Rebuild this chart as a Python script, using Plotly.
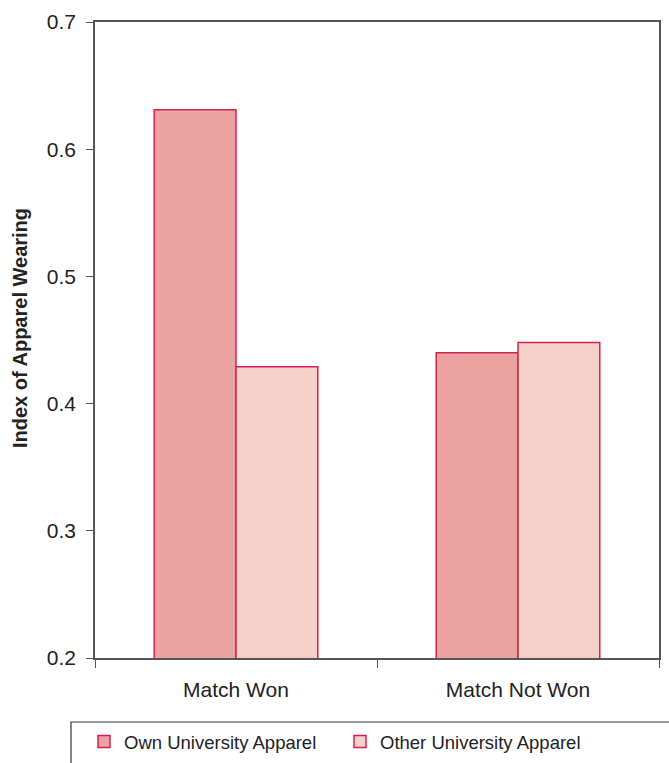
import plotly.graph_objects as go

categories = ["Match Won", "Match Not Won"]
own_values = [0.631, 0.440]
other_values = [0.429, 0.448]
series_names = ["Own University Apparel", "Other University Apparel"]
y_ticks = [0.2, 0.3, 0.4, 0.5, 0.6, 0.7]
y_tick_labels = ["0.2", "0.3", "0.4", "0.5", "0.6", "0.7"]
y_title = "Index of Apparel Wearing"

FONT = "Arial, Liberation Sans, Helvetica, sans-serif"
EDGE = "#D6204E"
W, H = 669, 763
ML, MR, MT, MB = 95, 10, 22, 105
PW, PH = W - ML - MR, H - MT - MB
PLOT_BOTTOM = MT + PH

def px_x(px):
    return (px - ML) / PW

def px_y(py):
    return (PLOT_BOTTOM - py) / PH

def cx(px):
    return px / W

def cy(py):
    return 1 - py / H

fig = go.Figure()
fig.add_trace(go.Bar(x=categories, y=own_values, name=series_names[0],
                     marker=dict(color="#EBA3A2", line=dict(color=EDGE, width=1.5))))
fig.add_trace(go.Bar(x=categories, y=other_values, name=series_names[1],
                     marker=dict(color="#F5D0C9", line=dict(color=EDGE, width=1.5))))

fig.update_layout(
    width=W, height=H,
    margin=dict(l=ML, r=MR, t=MT, b=MB, autoexpand=False),
    paper_bgcolor="white", plot_bgcolor="white",
    font=dict(family=FONT, size=18, color="#222222"),
    barmode="group", bargap=0.42, bargroupgap=0,
    showlegend=True,
    legend=dict(orientation="h", xref="container", yref="container",
                x=cx(84), xanchor="left", y=cy(723), yanchor="top",
                borderwidth=0, font=dict(size=18.5), entrywidth=211,
                traceorder="normal", bgcolor="rgba(0,0,0,0)"),
    xaxis=dict(type="category", showline=True, linecolor="#555555", linewidth=1.5,
               mirror=True, ticks="outside", tickson="boundaries", ticklen=8,
               tickcolor="#555555", showgrid=False, tickfont=dict(size=21),
               ticklabelstandoff=12, automargin=False),
    yaxis=dict(range=[0.2, 0.7], tickvals=y_ticks, ticktext=y_tick_labels,
               showline=True, linecolor="#555555", linewidth=1.5, mirror=True,
               ticks="outside", ticklen=7, tickcolor="#555555", showgrid=False,
               zeroline=False, tickfont=dict(size=21), ticklabelstandoff=6,
               automargin=False),
    annotations=[dict(text="<b>" + y_title + "</b>", xref="paper", yref="paper",
                      x=px_x(20), y=px_y(328), xanchor="center", yanchor="middle",
                      textangle=-90, showarrow=False, font=dict(size=20, color="#222222"))],
    shapes=[dict(type="rect", xref="paper", yref="paper",
                 x0=px_x(71), x1=px_x(700), y0=px_y(722), y1=px_y(800),
                 line=dict(color="#333333", width=1.2), fillcolor="rgba(0,0,0,0)")],
)

fig.write_html("out.html", config={"displayModeBar": False},
               post_script="document.body.style.margin='0';document.body.style.overflow='hidden';")
